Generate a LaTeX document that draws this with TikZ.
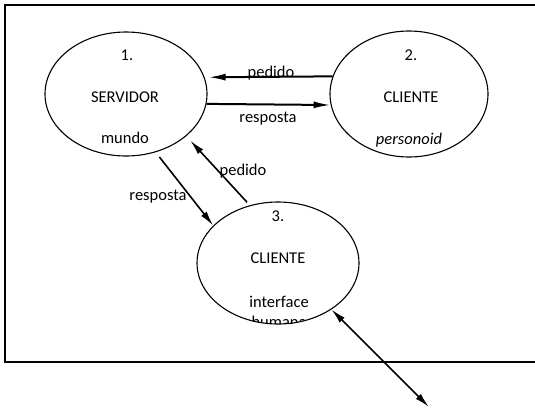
\documentclass[tikz,border=0pt]{standalone}
\usepackage{fontspec}
\setmainfont{Carlito}
\usetikzlibrary{shapes.geometric,arrows.meta}
\begin{document}
\begin{tikzpicture}[x=1pt,y=-1pt,
  bubble/.style={ellipse,draw,line width=1.1pt,inner sep=0pt},
  lbl/.style={font=\fontsize{16.5}{19}\selectfont,inner sep=0pt},
  flow/.style={line width=2pt,-{Latex[length=17pt,width=7pt]}},
  link/.style={line width=1.6pt,-{Latex[length=15pt,width=7pt]}},
]
\useasboundingbox (0,0) rectangle (535,410);
\clip (0,0) rectangle (535,410);

% open frame (its right side lies beyond the page)
\draw[line width=2.2pt] (545,5) -- (5,5) -- (5,362) -- (545,362);

% processes
\node[bubble,minimum width=162pt,minimum height=124pt] (srv) at (126,94) {};
\node[bubble,minimum width=158pt,minimum height=126pt] (cp)  at (409,94) {};
\node[bubble,minimum width=162pt,minimum height=122pt] (ch)  at (278,263) {};

\node[lbl] (srvnum)  at (127,55)  {1.};
\node[lbl] (srvname) at (125,97)  {SERVIDOR};
\node[lbl] (srvsub)  at (125,138) {mundo};

\node[lbl] (cpnum)  at (411,55)  {2.};
\node[lbl] (cpname) at (411,97)  {CLIENTE};
\node[lbl] (cpsub)  at (409,140) {\itshape personoid};

\node[lbl] (chnum)  at (278,216) {3.};
\node[lbl] (chname) at (278,258) {CLIENTE};
\node[lbl] (chsub)  at (279,302) {interface};
\begin{scope}
  \clip (ch.center) ellipse [x radius=81pt, y radius=61pt];
  \node[lbl] (chsub2) at (279,322) {humana};
\end{scope}

% messages between server and clients
\draw[flow,shorten >=4pt] (cp.167.4) -- (srv.12.3);
\draw[flow] (srv.-7.1) -- (cp.-172.7);
\node[lbl] (reqa) at (271,73)  {pedido};
\node[lbl] (resa) at (268,119) {resposta};

\draw[link,shorten <=6pt] (srv.-63.1) -- (ch.150.3);
\draw[link,shorten <=4pt,shorten >=6pt] (ch.116.2) -- (srv.-35.7);
\node[lbl] (resb) at (158,197) {resposta};
\node[lbl] (reqb) at (243,171) {pedido};

% link to the human user
\coordinate (user) at (429,407);
\draw[line width=1.6pt,{Latex[length=15pt,width=7pt]}-{Latex[length=15pt,width=7pt]}] (ch.-41) -- (user);
\end{tikzpicture}
\end{document}
